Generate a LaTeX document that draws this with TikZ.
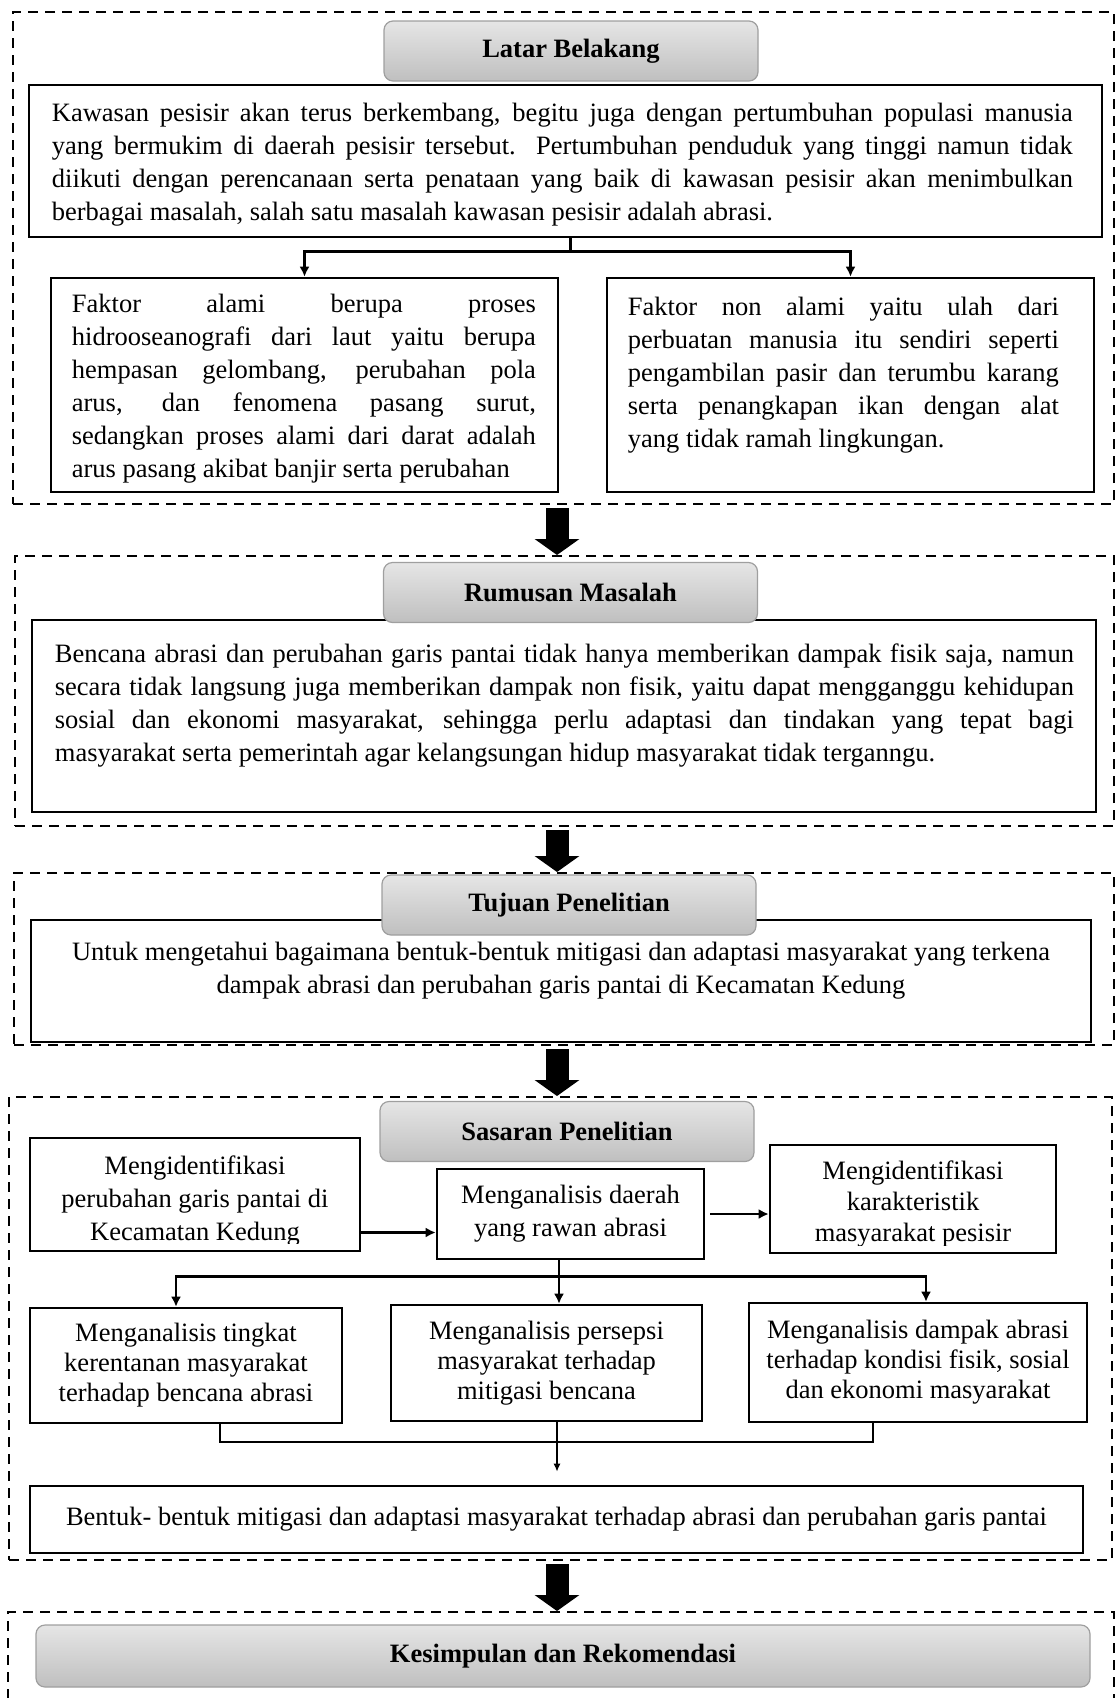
\documentclass[tikz,border=0pt]{standalone}
\usepackage{fontspec}
\setmainfont{Liberation Serif}
\usetikzlibrary{arrows.meta}

\newcommand{\hurufisi}{\fontsize{26.5}{33}\selectfont\hyphenpenalty=10000\tolerance=9999 }
\newcommand{\hurufrapat}{\fontsize{26.5}{30}\selectfont}
\newcommand{\hurufsedang}{\fontsize{26.5}{31}\selectfont}

\begin{document}
\begin{tikzpicture}[x=1pt, y=-1pt,
    blok/.style={draw, line width=2pt, dash pattern=on 10pt off 7pt},
    kotak/.style={draw, line width=2.6pt, inner sep=0pt},
    judul/.style={draw=gray!75, line width=1.2pt, rounded corners=9pt,
        top color=gray!20, bottom color=gray!50, inner sep=0pt,
        minimum width=374pt, minimum height=60pt, font=\hurufisi\bfseries},
    teks/.style={inner sep=0pt, font=\hurufisi},
    panah/.style={line width=2.5pt, -{Latex[length=10pt,width=10pt]}},
    panahkecil/.style={line width=1.5pt, -{Latex[length=8pt,width=7pt]}},
    panahbesar/.style={line width=23pt, -{Triangle[length=16pt,width=44pt]}}]
    \useasboundingbox (0,0) rectangle (1116,1698);

    % kelompok
    \node[blok, minimum width=1101pt, minimum height=492pt] (blok1) at (563.5,258) {};
    \node[blok, minimum width=1099pt, minimum height=270pt] (blok2) at (564.5,691) {};
    \node[blok, minimum width=1100pt, minimum height=172pt] (blok3) at (564,959) {};
    \node[blok, minimum width=1103pt, minimum height=463pt] (blok4) at (560.5,1328.5) {};
    \node[blok, minimum width=1106pt, minimum height=108pt] (blok5) at (561,1666) {};

    % latar belakang
    \node[kotak, minimum width=1073pt, minimum height=152pt] (isilatar) at (565.5,161) {};
    \node[teks, text width=1021pt, align=justify, anchor=north west] (isilatartxt)
        at ([shift={(24,19)}]isilatar.north west)
        {Kawasan pesisir akan terus berkembang, begitu juga dengan pertumbuhan populasi manusia\linebreak
        yang bermukim di daerah pesisir tersebut. Pertumbuhan penduduk yang tinggi namun tidak\linebreak
        diikuti dengan perencanaan serta penataan yang baik di kawasan pesisir akan menimbulkan\linebreak
        berbagai masalah, salah satu masalah kawasan pesisir adalah abrasi.};
    \node[kotak, minimum width=507pt, minimum height=214pt] (alami) at (304.5,385) {};
    \node[kotak, minimum width=487pt, minimum height=214pt] (nonalami) at (850.5,385) {};
    \begin{scope}
        \clip (alami.north west) rectangle ([shift={(0,-10)}]alami.south east);
        \node[teks, text width=464pt, align=justify, anchor=north west] (alamitxt)
            at ([shift={(22,17)}]alami.north west)
            {\parfillskip=0pt Faktor alami berupa proses\linebreak
            hidrooseanografi dari laut yaitu berupa\linebreak
            hempasan gelombang, perubahan pola\linebreak
            arus, dan fenomena pasang surut,\linebreak
            sedangkan proses alami dari darat adalah\linebreak
            arus pasang akibat banjir serta perubahan};
    \end{scope}
    \node[teks, text width=431pt, align=justify, anchor=north west] (nonalamitxt)
        at ([shift={(22,20)}]nonalami.north west)
        {Faktor non alami yaitu ulah dari\linebreak
        perbuatan manusia itu sendiri seperti\linebreak
        pengambilan pasir dan terumbu karang\linebreak
        serta penangkapan ikan dengan alat\linebreak
        yang tidak ramah lingkungan.};
    \coordinate (cabang1) at ([shift={(5,13)}]isilatar.south);
    \draw[line width=2.5pt] (isilatar.south -| cabang1) -- (cabang1);
    \draw[panah] (cabang1) -| (alami.north);
    \draw[panah] (cabang1) -| (nonalami.north);
    \node[judul] (latar) at (571,51) {Latar Belakang};

    % rumusan masalah
    \node[kotak, minimum width=1064pt, minimum height=192pt] (isirumusan) at (564,716) {};
    \node[teks, text width=1019pt, align=justify, anchor=north west] (isirumusantxt)
        at ([shift={(24,25)}]isirumusan.north west)
        {Bencana abrasi dan perubahan garis pantai tidak hanya memberikan dampak fisik saja, namun\linebreak
        secara tidak langsung juga memberikan dampak non fisik, yaitu dapat mengganggu kehidupan\linebreak
        sosial dan ekonomi masyarakat, sehingga perlu adaptasi dan tindakan yang tepat bagi\linebreak
        masyarakat serta pemerintah agar kelangsungan hidup masyarakat tidak terganngu.};
    \node[judul] (rumusan) at (570.5,592.5) {Rumusan Masalah};

    % tujuan penelitian
    \node[kotak, minimum width=1060pt, minimum height=122pt] (isitujuan) at (561,981) {};
    \node[teks, align=center, anchor=north] (isitujuantxt) at ([shift={(0,23)}]isitujuan.north)
        {Untuk mengetahui bagaimana bentuk-bentuk mitigasi dan adaptasi masyarakat yang terkena\\
        dampak abrasi dan perubahan garis pantai di Kecamatan Kedung};
    \node[judul] (tujuan) at (569,905) {Tujuan Penelitian};

    % sasaran penelitian
    \node[kotak, minimum width=330pt, minimum height=113pt] (identgaris) at (195,1194.5) {};
    \begin{scope}
        \clip (identgaris.north west) rectangle ([shift={(0,-9)}]identgaris.south east);
        \node[teks, align=center, anchor=north] (identgaristxt) at ([shift={(0,19)}]identgaris.north)
            {Mengidentifikasi\\perubahan garis pantai di\\Kecamatan Kedung};
    \end{scope}
    \node[kotak, align=center, font=\hurufisi, minimum width=267pt, minimum height=90pt] (rawan)
        at (570.5,1214) {Menganalisis daerah\\yang rawan abrasi};
    \node[kotak, minimum width=286pt, minimum height=108pt] (karakter) at (913,1199) {};
    \begin{scope}
        \clip (karakter.north west) rectangle ([shift={(0,-9)}]karakter.south east);
        \node[teks, font=\hurufsedang, align=center, anchor=north] (karaktertxt) at ([shift={(0,17)}]karakter.north)
            {Mengidentifikasi\\karakteristik\\masyarakat pesisir};
    \end{scope}
    \node[kotak, align=center, font=\hurufrapat, minimum width=312pt, minimum height=115pt] (kerentanan)
        at (186,1365.5) {Menganalisis tingkat\\kerentanan masyarakat\\terhadap bencana abrasi};
    \node[kotak, align=center, font=\hurufrapat, minimum width=311pt, minimum height=116pt] (persepsi)
        at (546.5,1363) {Menganalisis persepsi\\masyarakat terhadap\\mitigasi bencana};
    \node[kotak, align=center, font=\hurufrapat, minimum width=338pt, minimum height=119pt] (dampak)
        at (918,1362.5) {Menganalisis dampak abrasi\\terhadap kondisi fisik, sosial\\dan ekonomi masyarakat};
    \node[kotak, font=\hurufisi, minimum width=1053pt, minimum height=67pt] (bentuk)
        at (556.5,1519.5) {Bentuk- bentuk mitigasi dan adaptasi masyarakat terhadap abrasi dan perubahan garis pantai};
    \node[judul] (sasaran) at (567,1131.5) {Sasaran Penelitian};

    \draw[panah] ([shift={(0,38)}]identgaris.east) -- ([shift={(0,38)}]identgaris.east -| rawan.west);
    \draw[panah, shorten <=5pt] (rawan.east) -- (rawan.east -| karakter.west);
    \coordinate (cabang2) at ([shift={(-11.5,16)}]rawan.south);
    \draw[line width=2.5pt] (rawan.south -| cabang2) -- (cabang2);
    \draw[panah] (cabang2) -| ([shift={(-10,0)}]kerentanan.north);
    \draw[panah] (cabang2) -- (cabang2 |- persepsi.north);
    \draw[panah] (cabang2) -| ([shift={(8,0)}]dampak.north);
    \coordinate (kakiD) at ([shift={(34,0)}]kerentanan.south);
    \coordinate (kakiF) at ([shift={(-45,0)}]dampak.south);
    \coordinate (gabung) at (557,1442);
    \draw[line width=2.5pt] (kakiD) |- (kakiF |- gabung) -- (kakiF);
    \draw[panahkecil, shorten >=13pt] (persepsi.south -| gabung) -- (gabung |- bentuk.north);

    % kesimpulan
    \node[judul, minimum width=1054pt, minimum height=62pt] (kesimpulan) at (563,1656) {Kesimpulan dan Rekomendasi};

    % panah besar antar kelompok
    \coordinate (poros) at (557,0);
    \draw[panahbesar, shorten <=3pt] (blok1.south -| poros) -- (blok2.north -| poros);
    \draw[panahbesar, shorten <=3pt] (blok2.south -| poros) -- (blok3.north -| poros);
    \draw[panahbesar, shorten <=3pt] (blok3.south -| poros) -- (blok4.north -| poros);
    \draw[panahbesar, shorten <=3pt] (blok4.south -| poros) -- (blok5.north -| poros);
\end{tikzpicture}
\end{document}
